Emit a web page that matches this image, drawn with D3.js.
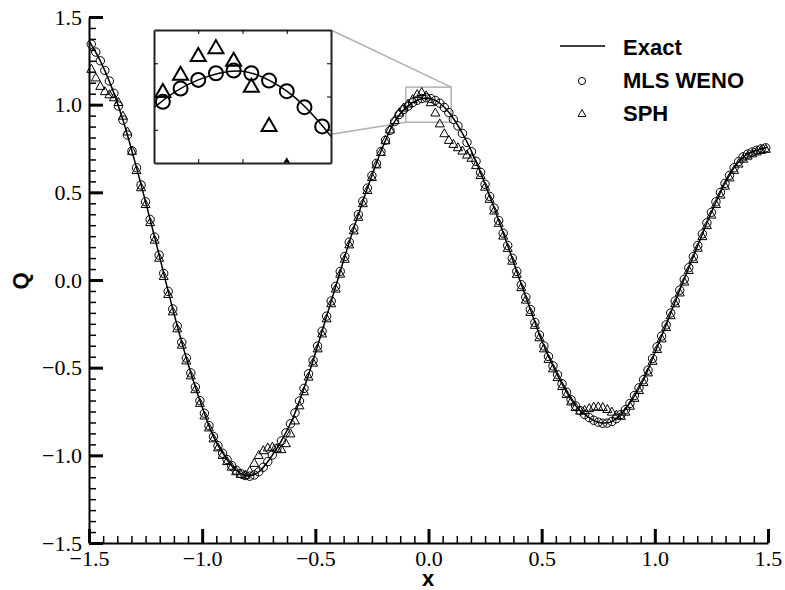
<!DOCTYPE html>
<html>
<head>
<meta charset="utf-8">
<script src="https://cdn.jsdelivr.net/npm/d3@7"></script>
<style>
  body { margin: 0; background: #fff; }
  .tick text { font-family: "Liberation Serif", "Times New Roman", serif; font-size: 22px; fill: #000; }
  .axis-title, .legend text { font-family: "Liberation Sans", Arial, sans-serif; font-weight: bold; font-size: 22px; fill: #000; }
</style>
</head>
<body>
<div id="chart"></div>
<script>
// sample grid of the markers (cell centres, dx = 0.02) and of the exact curve (0.05)
var gridX = d3.range(150).map(i => +(-1.49 + 0.02 * i).toFixed(2));
var exactX = d3.range(61).map(i => +(-1.5 + 0.05 * i).toFixed(2));

// exact solution
var exactQ = [1.365, 1.250, 1.100, 0.912, 0.688, 0.446, 0.194, -0.065, -0.309, -0.530,
  -0.724, -0.893, -1.006, -1.085, -1.118, -1.094, -1.018, -0.918, -0.790, -0.618,
  -0.418, -0.206, 0.006, 0.216, 0.412, 0.596, 0.766, 0.903, 0.983, 1.025,
  1.038, 1.008, 0.940, 0.836, 0.705, 0.546, 0.376, 0.197, 0.011, -0.168,
  -0.345, -0.490, -0.616, -0.718, -0.776, -0.811, -0.812, -0.767, -0.682, -0.569,
  -0.415, -0.256, -0.089, 0.070, 0.230, 0.386, 0.526, 0.640, 0.711, 0.740, 0.757];

// MLS WENO (circles)
var mlsQ = [1.345, 1.300, 1.250, 1.195, 1.135, 1.065, 0.992, 0.912, 0.827, 0.736,
  0.640, 0.542, 0.446, 0.345, 0.245, 0.142, 0.038, -0.065, -0.165, -0.262,
  -0.355, -0.445, -0.530, -0.610, -0.688, -0.760, -0.830, -0.893, -0.945, -0.988,
  -1.024, -1.058, -1.085, -1.104, -1.115, -1.119, -1.112, -1.094, -1.068, -1.036,
  -0.998, -0.960, -0.918, -0.872, -0.820, -0.758, -0.690, -0.618, -0.535, -0.458,
  -0.377, -0.292, -0.206, -0.120, -0.036, 0.049, 0.134, 0.216, 0.296, 0.373,
  0.450, 0.524, 0.596, 0.665, 0.733, 0.797, 0.853, 0.903, 0.944, 0.972,
  0.992, 1.012, 1.025, 1.035, 1.039, 1.035, 1.024, 1.008, 0.984, 0.955,
  0.916, 0.879, 0.836, 0.785, 0.732, 0.677, 0.614, 0.546, 0.477, 0.410,
  0.340, 0.267, 0.197, 0.124, 0.049, -0.027, -0.098, -0.168, -0.242, -0.313,
  -0.376, -0.436, -0.490, -0.540, -0.592, -0.640, -0.683, -0.718, -0.745, -0.767,
  -0.785, -0.800, -0.811, -0.817, -0.816, -0.807, -0.791, -0.767, -0.740, -0.704,
  -0.659, -0.615, -0.569, -0.514, -0.448, -0.381, -0.320, -0.256, -0.188, -0.120,
  -0.058, 0.004, 0.070, 0.133, 0.197, 0.263, 0.326, 0.386, 0.446, 0.500,
  0.551, 0.597, 0.640, 0.675, 0.702, 0.718, 0.730, 0.740, 0.748, 0.754];

// SPH (triangles)
var sphQ = [1.207, 1.158, 1.110, 1.080, 1.062, 1.045, 1.018, 0.940, 0.850, 0.740,
  0.630, 0.532, 0.436, 0.333, 0.233, 0.130, 0.026, -0.077, -0.176, -0.273,
  -0.366, -0.456, -0.541, -0.620, -0.698, -0.770, -0.838, -0.900, -0.952, -0.995,
  -1.030, -1.062, -1.088, -1.103, -1.108, -1.085, -1.040, -0.995, -0.968, -0.952,
  -0.948, -0.958, -0.962, -0.928, -0.872, -0.798, -0.712, -0.632, -0.548, -0.468,
  -0.387, -0.302, -0.216, -0.130, -0.046, 0.039, 0.124, 0.206, 0.286, 0.363,
  0.441, 0.516, 0.590, 0.662, 0.733, 0.800, 0.862, 0.915, 0.958, 0.987,
  1.009, 1.035, 1.063, 1.075, 1.056, 1.017, 0.958, 0.896, 0.840, 0.802,
  0.779, 0.760, 0.741, 0.718, 0.700, 0.658, 0.602, 0.535, 0.466, 0.399,
  0.329, 0.256, 0.186, 0.113, 0.038, -0.038, -0.109, -0.179, -0.253, -0.324,
  -0.387, -0.447, -0.501, -0.551, -0.602, -0.648, -0.690, -0.722, -0.742, -0.738,
  -0.728, -0.720, -0.718, -0.722, -0.733, -0.748, -0.765, -0.772, -0.748, -0.714,
  -0.669, -0.625, -0.579, -0.524, -0.458, -0.391, -0.330, -0.266, -0.198, -0.130,
  -0.068, -0.006, 0.060, 0.123, 0.187, 0.253, 0.316, 0.376, 0.436, 0.490,
  0.541, 0.588, 0.631, 0.667, 0.695, 0.712, 0.725, 0.736, 0.745, 0.751];

var majorTicks = [-1.5, -1.0, -0.5, 0.0, 0.5, 1.0, 1.5];
var insetXTicks = [-0.05, 0, 0.05];
var insetYTicks = [0.95, 1.0, 1.05];
var legendLabels = ["Exact", "MLS WENO", "SPH"];

var exactData = exactX.map((x, i) => ({ x: x, q: exactQ[i] }));
var mlsData = gridX.map((x, i) => ({ x: x, q: mlsQ[i] }));
var sphData = gridX.map((x, i) => ({ x: x, q: sphQ[i] }));

var svgWidth = 785;
var svgHeight = 590;

var svg = d3.select("#chart")
  .append("svg")
  .attr("width", svgWidth)
  .attr("height", svgHeight)
  .style("display", "block");

svg.append("rect")
  .attr("width", svgWidth)
  .attr("height", svgHeight)
  .attr("fill", "#fff");

var xScale = d3.scaleLinear().domain([-1.5, 1.5]).range([89, 768]);
var yScale = d3.scaleLinear().domain([-1.5, 1.5]).range([543, 17]);

// minor ticks every 1/16
var minorTicks = d3.range(-24, 25).map(i => i / 16).filter(v => Math.abs(v * 2 - Math.round(v * 2)) > 1e-6);

// triangle path centred on its box
function triangle(w, h) {
  return `M0,${-h / 2}L${w / 2},${h / 2}L${-w / 2},${h / 2}Z`;
}

// ---------- axes ----------
var fmt = d3.format(".1f");

svg.append("g")
  .attr("transform", `translate(0, ${yScale(-1.5)})`)
  .call(d3.axisBottom(xScale).tickValues(minorTicks).tickSizeInner(-7).tickSizeOuter(0).tickFormat(""))
  .call(g => g.select(".domain").remove())
  .call(g => g.selectAll("line").attr("stroke-width", 1.5));

svg.append("g")
  .attr("transform", `translate(${xScale(-1.5)}, 0)`)
  .call(d3.axisLeft(yScale).tickValues(minorTicks).tickSizeInner(-7).tickSizeOuter(0).tickFormat(""))
  .call(g => g.select(".domain").remove())
  .call(g => g.selectAll("line").attr("stroke-width", 1.5));

var xAxis = svg.append("g")
  .attr("transform", `translate(0, ${yScale(-1.5)})`)
  .call(d3.axisBottom(xScale).tickValues(majorTicks).tickSizeInner(-14).tickSizeOuter(0).tickPadding(7).tickFormat(fmt));
xAxis.select(".domain").attr("stroke-width", 2);
xAxis.selectAll(".tick line").attr("stroke-width", 3);

var yAxis = svg.append("g")
  .attr("transform", `translate(${xScale(-1.5)}, 0)`)
  .call(d3.axisLeft(yScale).tickValues(majorTicks).tickSizeInner(-14).tickSizeOuter(0).tickPadding(7).tickFormat(fmt));
yAxis.select(".domain").attr("stroke-width", 2);
yAxis.selectAll(".tick line").attr("stroke-width", 3);

svg.append("text")
  .attr("class", "axis-title")
  .attr("x", 428)
  .attr("y", 586)
  .attr("text-anchor", "middle")
  .text("x");

svg.append("text")
  .attr("class", "axis-title")
  .attr("transform", "translate(28, 281) rotate(-90)")
  .attr("text-anchor", "middle")
  .text("Q");

// ---------- zoom box + connectors (behind the data) ----------
var insetX = d3.scaleLinear().domain([-0.1, 0.1]).range([154, 331]);
var insetY = d3.scaleLinear().domain([0.9, 1.1]).range([163, 30]);

var zoomColor = "#b0b0b0";
svg.append("rect")
  .attr("x", xScale(-0.1))
  .attr("y", yScale(1.1))
  .attr("width", xScale(0.1) - xScale(-0.1))
  .attr("height", yScale(0.9) - yScale(1.1))
  .attr("fill", "none")
  .attr("stroke", zoomColor)
  .attr("stroke-width", 1.5);

svg.append("line")
  .attr("x1", insetX(0.1)).attr("y1", insetY(1.1))
  .attr("x2", xScale(0.1)).attr("y2", yScale(1.1))
  .attr("stroke", zoomColor).attr("stroke-width", 1.5);

svg.append("line")
  .attr("x1", insetX(-0.1)).attr("y1", insetY(0.9))
  .attr("x2", xScale(-0.1)).attr("y2", yScale(0.9))
  .attr("stroke", zoomColor).attr("stroke-width", 1.5);

// ---------- main data ----------
var line = d3.line()
  .x(d => xScale(d.x))
  .y(d => yScale(d.q))
  .curve(d3.curveCatmullRom);

svg.append("path")
  .datum(exactData)
  .attr("d", line)
  .attr("fill", "none")
  .attr("stroke", "#000")
  .attr("stroke-width", 1.5);

svg.append("g")
  .selectAll("circle")
  .data(mlsData)
  .enter()
  .append("circle")
  .attr("cx", d => xScale(d.x))
  .attr("cy", d => yScale(d.q))
  .attr("r", 4.2)
  .attr("fill", "none")
  .attr("stroke", "#000")
  .attr("stroke-width", 1);

svg.append("g")
  .selectAll("path")
  .data(sphData)
  .enter()
  .append("path")
  .attr("transform", d => `translate(${xScale(d.x)}, ${yScale(d.q)})`)
  .attr("d", triangle(9, 8))
  .attr("fill", "none")
  .attr("stroke", "#000")
  .attr("stroke-width", 1);

// ---------- inset ----------
var inset = svg.append("g");

inset.append("clipPath")
  .attr("id", "insetClip")
  .append("rect")
  .attr("x", 154)
  .attr("y", 30)
  .attr("width", 177)
  .attr("height", 133);

inset.append("rect")
  .attr("x", 154)
  .attr("y", 30)
  .attr("width", 177)
  .attr("height", 133)
  .attr("fill", "#fff");

var insetData = inset.append("g").attr("clip-path", "url(#insetClip)");

var insetLine = d3.line()
  .x(d => insetX(d.x))
  .y(d => insetY(d.q))
  .curve(d3.curveCatmullRom);

insetData.append("path")
  .datum(exactData)
  .attr("d", insetLine)
  .attr("fill", "none")
  .attr("stroke", "#000")
  .attr("stroke-width", 1.5);

insetData.selectAll("circle")
  .data(mlsData.filter(d => d.x > -0.12 && d.x < 0.12))
  .enter()
  .append("circle")
  .attr("cx", d => insetX(d.x))
  .attr("cy", d => insetY(d.q))
  .attr("r", 7)
  .attr("fill", "none")
  .attr("stroke", "#000")
  .attr("stroke-width", 2);

insetData.selectAll(".tri")
  .data(sphData.filter(d => d.x > -0.12 && d.x < 0.12))
  .enter()
  .append("path")
  .attr("class", "tri")
  .attr("transform", d => `translate(${insetX(d.x)}, ${insetY(d.q)})`)
  .attr("d", triangle(15, 13))
  .attr("fill", "none")
  .attr("stroke", "#000")
  .attr("stroke-width", 2);

// frame ticks on all four sides, pointing in
[
  [d3.axisTop(insetX).tickValues(insetXTicks), `translate(0, 30)`],
  [d3.axisBottom(insetX).tickValues(insetXTicks), `translate(0, 163)`],
  [d3.axisLeft(insetY).tickValues(insetYTicks), `translate(154, 0)`],
  [d3.axisRight(insetY).tickValues(insetYTicks), `translate(331, 0)`]
].forEach(function(a) {
  inset.append("g")
    .attr("transform", a[1])
    .call(a[0].tickSizeInner(-4).tickSizeOuter(0).tickFormat(""))
    .call(g => g.select(".domain").attr("stroke", "#222").attr("stroke-width", 2))
    .call(g => g.selectAll(".tick line").attr("stroke-width", 1));
});

// ---------- legend ----------
var legend = svg.append("g").attr("class", "legend");

legend.append("line")
  .attr("x1", 560).attr("x2", 605)
  .attr("y1", 46).attr("y2", 46)
  .attr("stroke", "#000")
  .attr("stroke-width", 1.5);

legend.append("circle")
  .attr("cx", 582)
  .attr("cy", 81)
  .attr("r", 3.6)
  .attr("fill", "none")
  .attr("stroke", "#000")
  .attr("stroke-width", 1);

legend.append("path")
  .attr("transform", "translate(582, 113)")
  .attr("d", triangle(8, 7))
  .attr("fill", "none")
  .attr("stroke", "#000")
  .attr("stroke-width", 1);

legend.selectAll("text")
  .data(legendLabels)
  .enter()
  .append("text")
  .attr("x", 623)
  .attr("y", (d, i) => 55 + i * 33)
  .text(d => d);
</script>
</body>
</html>
